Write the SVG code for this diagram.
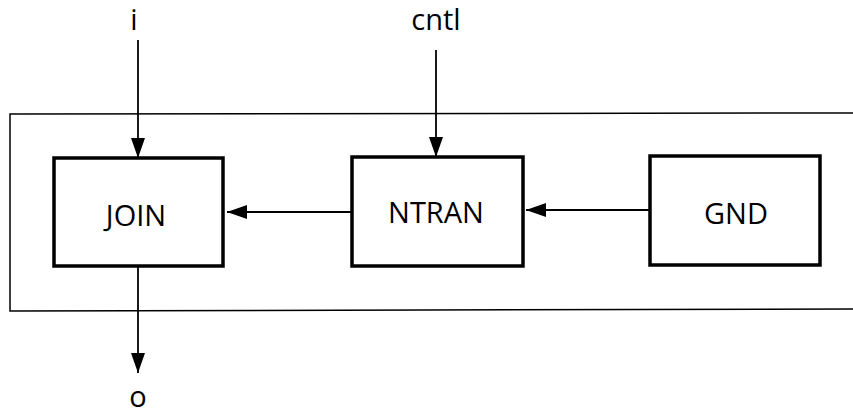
<svg xmlns="http://www.w3.org/2000/svg" width="853" height="414" viewBox="0 0 853 414">
<defs>
<marker id="ah" viewBox="0 0 20 14" refX="20" refY="7" markerWidth="20" markerHeight="14" markerUnits="userSpaceOnUse" orient="auto">
<path d="M0,0 L20,7 L0,14 Z" fill="#000"/>
</marker>
</defs>
<style>
.box{fill:#fff;stroke:#000;stroke-width:3.5}
.frame{fill:none;stroke:#000;stroke-width:1.5}
.lbl{font-family:"Open Sans","Noto Sans",sans-serif;font-size:29px;fill:#000;text-anchor:middle}
.con{stroke:#000;stroke-width:1.8;fill:none}
</style>
<rect width="853" height="414" fill="#fff"/>
<path class="frame" d="M853,113 L10,114 L10,311 L853,309"/>
<g id="connectors">
<line class="con" x1="138" y1="40" x2="138" y2="158" marker-end="url(#ah)"/>
<line class="con" x1="436" y1="50" x2="436" y2="157" marker-end="url(#ah)"/>
<line class="con" x1="351" y1="212" x2="227" y2="212" marker-end="url(#ah)"/>
<line class="con" x1="649" y1="210" x2="526" y2="210" marker-end="url(#ah)"/>
<line class="con" x1="138" y1="267" x2="138" y2="373" marker-end="url(#ah)"/>
</g>
<g id="join"><rect class="box" x="54" y="158" width="169" height="108"/><text class="lbl" x="136" y="226">JOIN</text></g>
<g id="ntran"><rect class="box" x="352" y="157" width="171" height="109"/><text class="lbl" x="436" y="223">NTRAN</text></g>
<g id="gnd"><rect class="box" x="650" y="156" width="170" height="109"/><text class="lbl" x="736" y="224">GND</text></g>
<text class="lbl" x="134" y="30">i</text>
<text class="lbl" x="436" y="30">cntl</text>
<text class="lbl" x="138" y="407">o</text>
</svg>
